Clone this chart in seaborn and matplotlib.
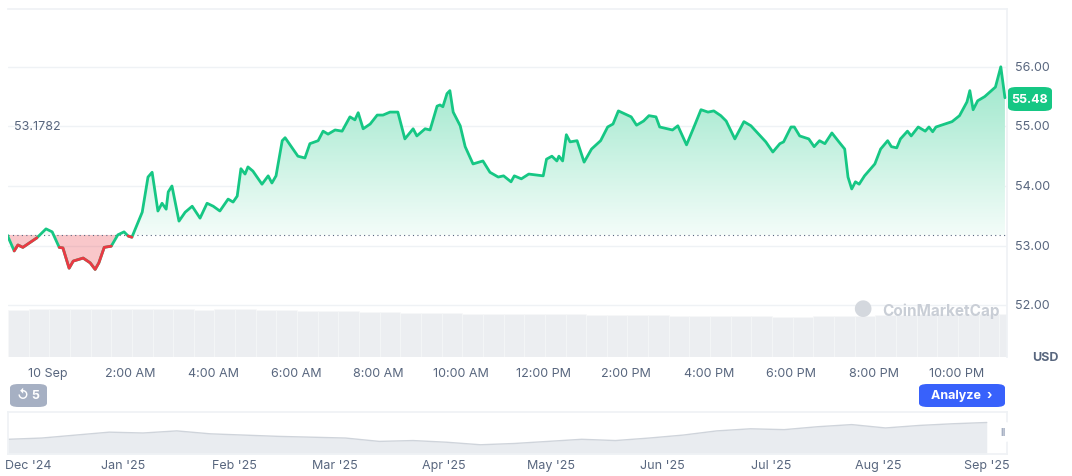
import numpy as np
import pandas as pd
import matplotlib
matplotlib.use("Agg")
import matplotlib.pyplot as plt
import seaborn as sns
from matplotlib.patches import FancyBboxPatch
from matplotlib.path import Path

# ---- data ----
hours = [-0.99, -0.82, -0.73, -0.61, -0.27, -0.05, 0.10, 0.27, 0.36, 0.51, 0.61, 0.85, 1.02, 1.14, 1.23,
         1.36, 1.53, 1.69, 1.84, 1.94, 2.03, 2.18, 2.28, 2.42, 2.52, 2.66, 2.76, 2.86, 2.91, 3.00,
         3.17, 3.32, 3.49, 3.68, 3.85, 4.00, 4.16, 4.36, 4.48, 4.58, 4.67, 4.77, 4.84, 4.96, 5.18,
         5.33, 5.42, 5.52, 5.67, 5.74, 5.93, 6.05, 6.22, 6.34, 6.54, 6.66, 6.78, 6.95, 7.12, 7.31,
         7.43, 7.51, 7.63, 7.80, 7.97, 8.11, 8.28, 8.47, 8.64, 8.84, 8.93, 9.13, 9.25, 9.42, 9.49,
         9.56, 9.66, 9.73, 9.81, 9.98, 10.10, 10.29, 10.53, 10.70, 10.90,
         11.03, 11.21, 11.29, 11.46, 11.64, 11.99, 12.07, 12.20, 12.32, 12.37, 12.46, 12.55, 12.64,
         12.81, 12.98, 13.16, 13.38, 13.55, 13.68, 13.81, 14.12, 14.25, 14.42, 14.55, 14.72, 14.81,
         15.12, 15.25, 15.46, 15.64, 15.81, 15.98, 16.12, 16.29, 16.42, 16.63, 16.85, 17.02, 17.38,
         17.55, 17.72, 17.81, 17.99, 18.07, 18.20, 18.42, 18.55, 18.68, 18.81, 18.98, 19.15, 19.29,
         19.37, 19.46, 19.55, 19.64, 19.77, 20.02, 20.16, 20.33, 20.42, 20.55, 20.64, 20.81, 20.90,
         21.07, 21.24, 21.33, 21.42, 21.50, 21.72, 21.89, 22.07, 22.25, 22.32, 22.40, 22.51, 22.68,
         22.94, 23.07, 23.17]
price = [53.18, 52.91, 53.01, 52.97, 53.13, 53.28, 53.23, 52.97, 52.96, 52.62, 52.74, 52.79, 52.71, 52.60, 52.71,
         52.97, 52.99, 53.18, 53.23, 53.16, 53.14, 53.39, 53.56, 54.15, 54.23, 53.58, 53.71, 53.61, 53.90, 54.00,
         53.41, 53.56, 53.66, 53.46, 53.71, 53.66, 53.58, 53.78, 53.73, 53.83, 54.29, 54.20, 54.32, 54.25, 54.03,
         54.17, 54.05, 54.17, 54.76, 54.81, 54.62, 54.50, 54.47, 54.71, 54.76, 54.92, 54.87, 54.94, 54.92, 55.16,
         55.11, 55.23, 54.96, 55.04, 55.19, 55.19, 55.24, 55.24, 54.79, 54.96, 54.84, 54.96, 54.94, 55.34, 55.36,
         55.33, 55.55, 55.60, 55.24, 55.01, 54.66, 54.37, 54.42, 54.23, 54.15,
         54.17, 54.07, 54.17, 54.12, 54.20, 54.17, 54.45, 54.50, 54.42, 54.50, 54.42, 54.86, 54.74,
         54.76, 54.40, 54.62, 54.76, 54.99, 55.04, 55.26, 55.16, 55.02, 55.09, 55.18, 55.16, 54.99,
         54.94, 55.01, 54.69, 54.99, 55.28, 55.24, 55.26, 55.18, 55.09, 54.79, 55.08, 55.01, 54.74,
         54.57, 54.71, 54.74, 54.99, 54.99, 54.84, 54.79, 54.66, 54.76, 54.71, 54.89, 54.74, 54.62,
         54.15, 53.95, 54.07, 54.03, 54.17, 54.37, 54.62, 54.76, 54.66, 54.64, 54.79, 54.92, 54.84,
         54.99, 54.92, 54.99, 54.91, 54.99, 55.04, 55.08, 55.18, 55.41, 55.60, 55.28, 55.43, 55.50,
         55.66, 56.00, 55.48]
baseline = 53.1782
last_price = "55.48"

vol_hours = [h * 0.5 - 0.97 for h in range(49)]
volume = [0.98, 0.99, 1.0, 0.99, 1.0, 0.99, 0.99, 1.0, 0.99, 0.98, 0.99, 1.0, 0.98, 0.97, 0.96, 0.95,
          0.95, 0.94, 0.93, 0.92, 0.92, 0.91, 0.90, 0.90, 0.89, 0.89, 0.88, 0.88, 0.87, 0.87, 0.86, 0.86,
          0.85, 0.85, 0.84, 0.84, 0.84, 0.83, 0.83, 0.84, 0.84, 0.85, 0.86, 0.87, 0.88, 0.89, 0.90, 0.88, 0.88]

y_ticks = [52, 53, 54, 55, 56]
x_tick_hours = [0, 2, 4, 6, 8, 10, 12, 14, 16, 18, 20, 22]
x_tick_labels = ["10 Sep", "2:00 AM", "4:00 AM", "6:00 AM", "8:00 AM", "10:00 AM", "12:00 PM",
                 "2:00 PM", "4:00 PM", "6:00 PM", "8:00 PM", "10:00 PM"]

nav_pos = [0, 1, 2, 3, 4, 5, 6, 7, 8, 9, 10, 11, 12, 13, 14, 15, 16, 17, 18, 19, 20, 21, 22, 23, 24, 25, 26, 27, 28, 29]
nav_val = [0.35, 0.38, 0.45, 0.52, 0.50, 0.55, 0.48, 0.45, 0.42, 0.40, 0.38, 0.30, 0.32, 0.28, 0.22,
           0.25, 0.30, 0.35, 0.32, 0.38, 0.45, 0.55, 0.60, 0.58, 0.65, 0.70, 0.62, 0.68, 0.72, 0.75]
nav_months = ["Dec '24", "Jan '25", "Feb '25", "Mar '25", "Apr '25", "May '25", "Jun '25",
              "Jul '25", "Aug '25", "Sep '25"]
nav_month_pos = [0.6, 3.4, 6.7, 9.7, 12.9, 16.1, 19.4, 22.6, 25.8, 29.0]

GREEN = "#16c784"
RED = "#ea3943"
GRAY = "#58667e"

sns.set_theme(style="white")
plt.rcParams['font.family'] = ['Inter', 'DejaVu Sans']

W, H = 1072, 477
fig = plt.figure(figsize=(W / 100, H / 100), dpi=100)


def box(x0, y0, x1, y1):
    return [x0 / W, 1 - y1 / H, (x1 - x0) / W, (y1 - y0) / H]


ax = fig.add_axes(box(8, 10, 1007, 358))
df = pd.DataFrame({"hour": hours, "price": price})
x = np.array(hours)
y = np.array(price)
xmin, xmax = -0.97, 23.22
ymin, ymax = 51.13, 56.97

# volume bars on twin axis
axv = ax.twinx()
axv.bar(vol_hours, volume, width=0.5, color="#eceef1", edgecolor="#f7f8f9", lw=0.4,
        align="edge", zorder=0)
axv.set_ylim(0, 7.2)
axv.set_yticks([])
for s in axv.spines.values():
    s.set_visible(False)
ax.set_zorder(axv.get_zorder() + 1)
ax.patch.set_visible(False)

# grid
for t in y_ticks:
    ax.axhline(t, color="#eff2f5", lw=1, zorder=0)

# green gradient fill above the baseline, red fill below
poly = ax.fill_between(x, y, baseline, where=y >= baseline, interpolate=True, color="none")
grad = np.linspace(0.45, 0.05, 256).reshape(-1, 1)
cmap = matplotlib.colors.LinearSegmentedColormap.from_list("g", ["#ffffff", GREEN])
img = ax.imshow(grad, extent=[xmin, xmax, baseline, 56.1], aspect="auto", cmap=cmap,
                vmin=0, vmax=1, origin="upper", zorder=1)
img.set_clip_path(Path.make_compound_path(*poly.get_paths()), transform=ax.transData)
ax.fill_between(x, y, baseline, where=y <= baseline, interpolate=True, color=RED, alpha=0.28, lw=0, zorder=1)

sns.lineplot(data=df, x="hour", y="price", ax=ax, color=GREEN, lw=2, zorder=3)
red = np.ma.masked_where(y > baseline + 0.001, y)
ax.plot(x, red, color=RED, lw=2, zorder=4)
ax.axhline(baseline, color="#58667e", lw=0.8, ls=(0, (1, 3)), zorder=2)

ax.set_xlim(xmin, xmax)
ax.set_ylim(ymin, ymax)
ax.set_xticks([])
ax.set_yticks([])
ax.set_xlabel("")
ax.set_ylabel("")
for name, s in ax.spines.items():
    s.set_visible(name in ("top", "right"))
    s.set_color("#eff2f5")

for t in y_ticks:
    ax.text(1.008, (t - ymin) / (ymax - ymin), f"{t:.2f}", transform=ax.transAxes,
            va="center", ha="left", fontsize=9, color=GRAY)
ax.text(0.006, (baseline + 1.82 - ymin) / (ymax - ymin), "53.1782",
        transform=ax.transAxes, fontsize=9, color=GRAY, va="center")
for h, lab in zip(x_tick_hours, x_tick_labels):
    ax.text(h, ymin - 0.27, lab, fontsize=9, color=GRAY, ha="center", va="center")
ax.text(1.038, 0.0, "USD", transform=ax.transAxes, fontsize=9, color=GRAY,
        ha="center", va="center", weight="bold")
fig.text(882 / W, 1 - 311 / H, "CoinMarketCap", fontsize=11, color="#c9ced6", weight="bold", va="center")
fig.text(862 / W, 1 - 311 / H, "\u25cf", fontsize=16, color="#d4d8de", ha="center", va="center")


def badge(x0, y0, x1, y1, fc, text, tc, fs=9, weight="bold"):
    p = FancyBboxPatch((x0 / W, 1 - y1 / H), (x1 - x0) / W, (y1 - y0) / H,
                       boxstyle="round,pad=0,rounding_size=0.008", transform=fig.transFigure,
                       fc=fc, ec="none")
    fig.patches.append(p)
    fig.text((x0 + x1) / 2 / W, 1 - (y0 + y1) / 2 / H, text, color=tc, fontsize=fs,
             ha="center", va="center", weight=weight)


badge(1008, 88, 1052, 112, GREEN, last_price, "white")
badge(10, 385, 47, 408, "#a6b0c3", "\u21ba 5", "white")
badge(919, 385, 1005, 408, "#3861fb", "Analyze  \u203a", "white")

# navigator
axn = fig.add_axes(box(8, 413, 1007, 455))
nav = pd.DataFrame({"pos": nav_pos, "val": nav_val})
axn.fill_between(nav_pos, nav_val, 0, color="#e9ecf0", lw=0)
sns.lineplot(data=nav, x="pos", y="val", ax=axn, color="#cfd4db", lw=1)
axn.set_xlim(0, 29.6)
axn.set_ylim(0, 1)
axn.set_xticks([])
axn.set_yticks([])
axn.set_xlabel("")
axn.set_ylabel("")
for s in axn.spines.values():
    s.set_color("#eff2f5")
for p, lab in zip(nav_month_pos, nav_months):
    axn.text(p, -0.27, lab, fontsize=9, color=GRAY, ha="center", va="center")
badge(994, 423, 1012, 443, "#ffffff", "II", "#a6b0c3", fs=7)

fig.savefig("out.png", dpi=100)
